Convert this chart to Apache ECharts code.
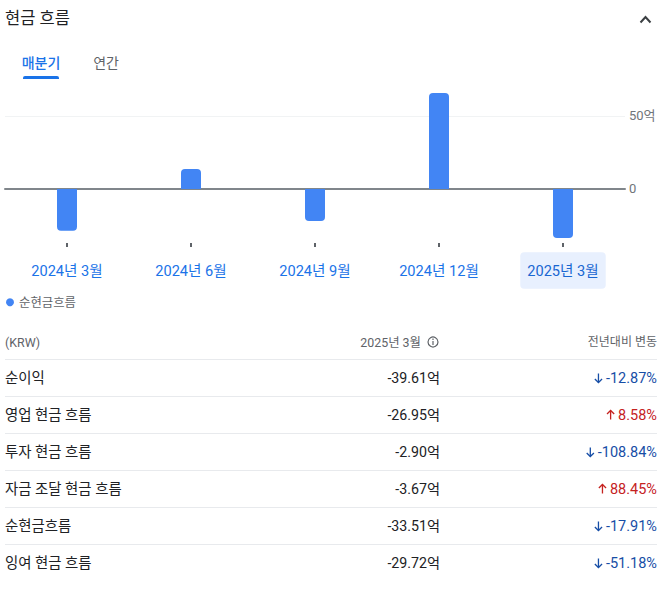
<!DOCTYPE html>
<html><head><meta charset="utf-8">
<style>html,body{margin:0;padding:0;background:#fff}#c{width:667px;height:589px}</style>
<script src="https://cdn.jsdelivr.net/npm/echarts@6/dist/echarts.min.js"></script>
</head><body><div id="c"></div>
<script>
const periods = ['2024년 3월','2024년 6월','2024년 9월','2024년 12월','2025년 3월'];
const netCash = [-28.6, 13.7, -21.9, 65.8, -33.51];
const seriesName = '순현금흐름';
const yTicks = [0, 50];
const rowNames = ['순이익','영업 현금 흐름','투자 현금 흐름','자금 조달 현금 흐름','순현금흐름','잉여 현금 흐름'];
const rowValues = ['-39.61억','-26.95억','-2.90억','-3.67억','-33.51억','-29.72억'];
const rowChanges = ['-12.87%','8.58%','-108.84%','88.45%','-17.91%','-51.18%'];
const rowUp = [false,true,false,true,false,false];

const FF = "Roboto, 'Noto Sans CJK KR', sans-serif";
const chart = echarts.init(document.getElementById('c'), null, {renderer:'svg'});
const ctx = document.createElement('canvas').getContext('2d');
function tw(s, font){ ctx.font = font; return ctx.measureText(s).width; }
const g = [];
function txt(x,y,s,o){ g.push({type:'text',x,y,silent:true,style:Object.assign({text:s,fontFamily:FF,verticalAlign:'middle'},o)}); }
txt(5,18.5,'현금 흐름',{fontSize:16.5,fontWeight:400,fill:'#202124'});
g.push({type:'polyline',shape:{points:[[640.5,22.5],[645.5,17],[650.5,22.5]]},style:{stroke:'#3c4043',lineWidth:2,fill:'none'}});
txt(41,62.5,'매분기',{fontSize:14,fontWeight:500,fill:'#1a73e8',align:'center'});
txt(106,62.5,'연간',{fontSize:14,fontWeight:400,fill:'#5f6368',align:'center'});
g.push({type:'rect',shape:{x:23,y:76,width:36,height:3,r:[2,2,0,0]},style:{fill:'#1a73e8'}});
txt(5,342,'(KRW)',{fontSize:12.4,fill:'#5f6368'});
txt(421,342,'2025년 3월',{fontSize:12.4,fill:'#5f6368',align:'right'});
g.push({type:'circle',shape:{cx:433,cy:342,r:5},style:{fill:'none',stroke:'#5f6368',lineWidth:1.2}});
g.push({type:'line',shape:{x1:433,y1:341,x2:433,y2:345},style:{stroke:'#5f6368',lineWidth:1.2}});
g.push({type:'line',shape:{x1:433,y1:338.6,x2:433,y2:339.9},style:{stroke:'#5f6368',lineWidth:1.2}});
txt(657,342,'전년대비 변동',{fontSize:12,fill:'#5f6368',align:'right'});
rowNames.forEach((n,i)=>{
  const ly = 359.5+37*i, cy = 378+37*i;
  g.push({type:'line',shape:{x1:5,y1:ly,x2:657,y2:ly},style:{stroke:'#e8eaed',lineWidth:1}});
  txt(5,cy,n,{fontSize:14.4,fontWeight:400,fill:'#202124'});
  txt(440,cy,rowValues[i],{fontSize:14.2,fontWeight:400,fill:'#202124',align:'right'});
  const col = rowUp[i] ? '#c5221f' : '#174ea6';
  txt(657,cy,rowChanges[i],{fontSize:14.5,fontWeight:400,fill:col,align:'right'});
  const ax = 657 - tw(rowChanges[i],"400 14.5px "+FF) - 7.5;
  const d = rowUp[i] ? -1 : 1;
  g.push({type:'polyline',shape:{points:[[ax,cy-4.5*d],[ax,cy+4.5*d]]},style:{stroke:col,lineWidth:1.3,fill:'none'}});
  g.push({type:'polyline',shape:{points:[[ax-3.6,cy+1*d],[ax,cy+4.5*d],[ax+3.6,cy+1*d]]},style:{stroke:col,lineWidth:1.3,fill:'none'}});
});
const last = periods.length-1;
const lab = {fontFamily:FF,fontSize:14.6,fontWeight:400,lineHeight:15,padding:[11,7,11,7]};
chart.setOption({
  animation:false,
  graphic:g,
  legend:{left:6,top:296,padding:0,itemWidth:8,itemHeight:8,itemGap:6,icon:'circle',data:[seriesName],
    textStyle:{fontFamily:FF,fontSize:12.4,color:'#5f6368',padding:[0,0,0,0]}},
  grid:{left:5,width:620,top:86.8,height:156.2,containLabel:false},
  xAxis:[
    {type:'category',data:periods,position:'bottom',axisLine:{show:false,onZero:false},
     axisTick:{show:true,alignWithLabel:true,length:4,lineStyle:{color:'#5f6368',width:2},inside:false},
     axisLabel:{margin:20,interval:0,
       formatter:(v,i)=> i===last ? '{sel|'+v+'}' : '{nor|'+v+'}',
       rich:{nor:Object.assign({color:'#1a73e8'},lab),
             sel:Object.assign({backgroundColor:'#e8f0fe',color:'#1967d2',borderRadius:4},lab)}}},
    {type:'category',data:periods,axisLine:{show:true,onZero:true,lineStyle:{color:'#80868b',width:2}},axisTick:{show:false},axisLabel:{show:false}}
  ],
  yAxis:{type:'value',position:'right',min:-37,max:70,
    axisLine:{show:false},
    axisTick:{show:false,customValues:yTicks},
    splitLine:{show:true,lineStyle:{color:'#f1f3f4',width:1}},
    axisLabel:{customValues:yTicks,margin:4,fontFamily:FF,fontSize:13,color:'#70757a',showMinLabel:true,showMaxLabel:true,
      formatter:v=> v===0 ? '0' : v+'억'}},
  series:[{name:seriesName,type:'bar',barWidth:20,z:1,xAxisIndex:0,
    data:netCash.map(v=>({value:v,itemStyle:{borderRadius:v<0?[0,0,4,4]:[4,4,0,0]}})),
    itemStyle:{color:'#4285f4'}}]
});
</script></body></html>
